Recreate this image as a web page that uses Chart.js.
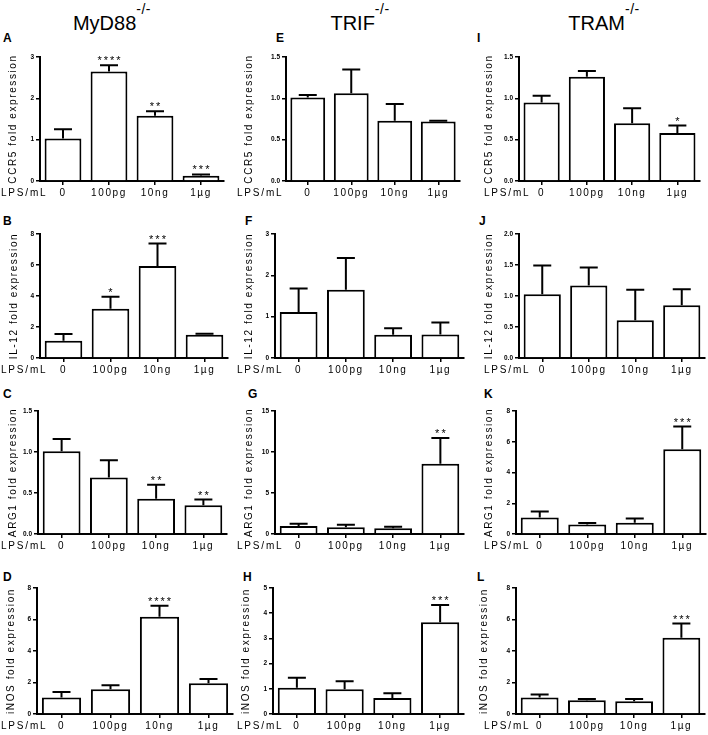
<!DOCTYPE html>
<html>
<head>
<meta charset="utf-8">
<script src="https://cdn.jsdelivr.net/npm/chart.js@4.4.1/dist/chart.umd.min.js"></script>
<style>
  html, body { margin: 0; padding: 0; background: #fff; }
  body { width: 708px; height: 735px; position: relative; overflow: hidden; font-family: "Liberation Sans", Arial, sans-serif; color: #000; }
  canvas { position: absolute; }
  .strain { position: absolute; top: 13px; font-size: 20px; line-height: 20px; white-space: nowrap; transform: translateX(-50%); }
  .strain span { position: relative; top: -16px; font-size: 14px; margin-left: 0; letter-spacing: 0.5px; }
  .letter { position: absolute; font-size: 12px; line-height: 12px; font-weight: bold; }
</style>
</head>
<body>
<script>
// LPS doses on the x axis, knockout strains across, genes down
const doses = ['0', '100pg', '10ng', '1µg'];
const strains = ['MyD88', 'TRIF', 'TRAM'];
const genes = ['CCR5', 'IL-12', 'ARG1', 'iNOS'];
const letters = ['A', 'B', 'C', 'D', 'E', 'F', 'G', 'H', 'I', 'J', 'K', 'L'];

// one row per strain (MyD88, TRIF, TRAM): mean, SEM, stars, y ticks
const ccr5Mean = [[1.03, 2.65, 1.58, 0.13], [1.01, 1.06, 0.73, 0.72], [0.95, 1.26, 0.70, 0.58]];
const ccr5Sem = [[0.22, 0.15, 0.11, 0.03], [0.03, 0.29, 0.20, 0.01], [0.08, 0.07, 0.18, 0.09]];
const ccr5Stars = [['', '****', '**', '***'], ['', '', '', ''], ['', '', '', '*']];
const ccr5Ticks = [[0, 1, 2, 3], [0, 0.5, 1, 1.5], [0, 0.5, 1, 1.5]];

const il12Mean = [[1.12, 3.18, 5.94, 1.50], [1.11, 1.65, 0.56, 0.57], [1.03, 1.17, 0.61, 0.85]];
const il12Sem = [[0.43, 0.77, 1.44, 0.07], [0.57, 0.77, 0.16, 0.29], [0.46, 0.29, 0.49, 0.26]];
const il12Stars = [['', '*', '***', ''], ['', '', '', ''], ['', '', '', '']];
const il12Ticks = [[0, 2, 4, 6, 8], [0, 1, 2, 3], [0, 0.5, 1, 1.5, 2]];

const arg1Mean = [[1.01, 0.69, 0.43, 0.35], [0.97, 0.81, 0.69, 8.58], [1.08, 0.62, 0.73, 5.51]];
const arg1Sem = [[0.15, 0.21, 0.17, 0.07], [0.28, 0.32, 0.20, 3.12], [0.38, 0.09, 0.28, 1.48]];
const arg1Stars = [['', '', '**', '**'], ['', '', '', '**'], ['', '', '', '***']];
const arg1Ticks = [[0, 0.5, 1, 1.5], [0, 5, 10, 15], [0, 2, 4, 6, 8]];

const inosMean = [[1.04, 1.57, 6.18, 1.95], [1.04, 0.98, 0.63, 3.64], [1.04, 0.87, 0.81, 4.84]];
const inosSem = [[0.36, 0.26, 0.70, 0.28], [0.40, 0.32, 0.19, 0.69], [0.20, 0.09, 0.15, 0.90]];
const inosStars = [['', '', '****', ''], ['', '', '', '***'], ['', '', '', '***']];
const inosTicks = [[0, 2, 4, 6, 8], [0, 1, 2, 3, 4, 5], [0, 2, 4, 6, 8]];

const panelData = [
  [ccr5Mean, ccr5Sem, ccr5Stars, ccr5Ticks],
  [il12Mean, il12Sem, il12Stars, il12Ticks],
  [arg1Mean, arg1Sem, arg1Stars, arg1Ticks],
  [inosMean, inosSem, inosStars, inosTicks]
];

// layout (pixels)
const FONT = '"Liberation Sans", Arial, sans-serif';
const colX = [0, 236, 472];
const rowTop = [57, 234, 411, 588];
const rowZero = [181, 358, 534, 714];
const axisLeft = [[40, 50, 47], [40, 39, 47], [38, 39, 44], [37, 37, 44]];
const axisRight = [[224, 224, 228], [228, 228, 233], [227, 228, 234], [233, 228, 233]];
const titleX = [[13, 13, 17], [14, 13, 17], [13, 13, 17], [11, 10, 12]];
const lpsX = [1, 1, 12];
const strainCenter = [112, 360, 604];
const letterPos = [[3, 32], [3, 215], [3, 388], [3, 571], [276, 32], [245, 215], [248, 388], [243, 571], [477, 32], [479, 215], [484, 388], [477, 571]];
const PAD_TOP = 30;
const X_AXIS_H = 24;
const CAP = 18;

Chart.defaults.font.family = FONT;
Chart.defaults.color = '#000';

strains.forEach((name, s) => {
  const d = document.createElement('div');
  d.className = 'strain';
  d.style.left = strainCenter[s] + 'px';
  d.innerHTML = name + '<span>-/-</span>';
  document.body.appendChild(d);
});

letters.forEach((l, i) => {
  const d = document.createElement('div');
  d.className = 'letter';
  d.style.left = letterPos[i][0] + 'px';
  d.style.top = letterPos[i][1] + 'px';
  d.textContent = l;
  document.body.appendChild(d);
});

function tightTicks(scale) {
  if (scale._tight) return;
  const orig = scale.drawLabels;
  scale.drawLabels = function (area) {
    const ctx = this.ctx;
    const prev = ctx.letterSpacing;
    ctx.letterSpacing = '0px';
    orig.call(this, area);
    ctx.letterSpacing = prev;
  };
  scale._tight = true;
}

const extras = {
  id: 'extras',
  beforeUpdate(chart) { chart.ctx.letterSpacing = '1.6px'; },
  beforeDraw(chart) {
    chart.ctx.letterSpacing = '1.6px';
    tightTicks(chart.scales.y);
  },
  afterDatasetsDraw(chart, args, opts) {
    const { ctx, scales: { x, y } } = chart;
    ctx.save();
    ctx.strokeStyle = '#000';
    ctx.fillStyle = '#000';
    ctx.lineWidth = 2;
    opts.mean.forEach((m, i) => {
      const cx = x.getPixelForValue(i);
      const y0 = y.getPixelForValue(m);
      const y1 = y.getPixelForValue(m + opts.sem[i]);
      ctx.beginPath();
      ctx.moveTo(cx, y0);
      ctx.lineTo(cx, y1);
      ctx.moveTo(cx - CAP / 2, y1);
      ctx.lineTo(cx + CAP / 2, y1);
      ctx.stroke();
      if (opts.stars[i]) {
        ctx.font = '11px ' + FONT;
        ctx.letterSpacing = '2px';
        ctx.textAlign = 'center';
        ctx.textBaseline = 'alphabetic';
        ctx.fillText(opts.stars[i], cx + 1, y1 - 1);
      }
    });
    ctx.font = '10px ' + FONT;
    ctx.letterSpacing = '1.8px';
    ctx.textAlign = 'left';
    ctx.textBaseline = 'middle';
    ctx.fillText('LPS/mL', opts.lpsX, chart.chartArea.bottom + 12);
    ctx.restore();
  }
};

function makePanel(g, s) {
  const [means, sems, stars, ticks] = panelData[g];
  const tick = ticks[s];
  const height = rowZero[g] - rowTop[g] + PAD_TOP + X_AXIS_H;
  const canvas = document.createElement('canvas');
  canvas.width = 236;
  canvas.height = height;
  canvas.style.left = colX[s] + 'px';
  canvas.style.top = (rowTop[g] - PAD_TOP) + 'px';
  canvas.style.width = '236px';
  canvas.style.height = height + 'px';
  document.body.appendChild(canvas);
  const decimals = tick.some(v => v % 1 !== 0) ? 1 : 0;

  new Chart(canvas, {
    type: 'bar',
    data: {
      labels: doses,
      datasets: [{
        data: means[s],
        backgroundColor: '#fff',
        borderColor: '#000',
        borderWidth: 2,
        categoryPercentage: 1,
        barPercentage: 0.8
      }]
    },
    plugins: [extras],
    options: {
      responsive: false,
      animation: false,
      devicePixelRatio: 1,
      layout: { padding: { top: PAD_TOP, left: 0, bottom: 0, right: 236 - axisRight[g][s] } },
      plugins: {
        legend: { display: false },
        tooltip: { enabled: false },
        extras: { mean: means[s], sem: sems[s], stars: stars[s], lpsX: lpsX[s] }
      },
      scales: {
        x: {
          offset: true,
          grid: { display: true, drawOnChartArea: false, offset: false, tickLength: 4, color: '#000', lineWidth: 1.5 },
          border: { display: true, color: '#000', width: 2 },
          ticks: { color: '#000', font: { size: 10 }, padding: 2, maxRotation: 0, autoSkip: false },
          afterFit: sc => { sc.height = X_AXIS_H; }
        },
        y: {
          min: 0,
          max: tick[tick.length - 1],
          afterBuildTicks: sc => { sc.ticks = tick.map(v => ({ value: v })); },
          grid: { display: true, drawOnChartArea: false, tickLength: 4, color: '#000', lineWidth: 1.5 },
          border: { display: true, color: '#000', width: 2 },
          ticks: { color: '#000', font: { size: 6.5, weight: 'bold' }, padding: 2, callback: v => v.toFixed(decimals) },
          title: {
            display: true,
            text: genes[g] + ' fold expression',
            color: '#000',
            font: { size: 10 },
            padding: { top: titleX[g][s] - 6, bottom: 0 }
          },
          afterFit: sc => { sc.width = axisLeft[g][s]; }
        }
      }
    }
  });
}

genes.forEach((gene, g) => strains.forEach((strain, s) => makePanel(g, s)));
</script>
</body>
</html>
